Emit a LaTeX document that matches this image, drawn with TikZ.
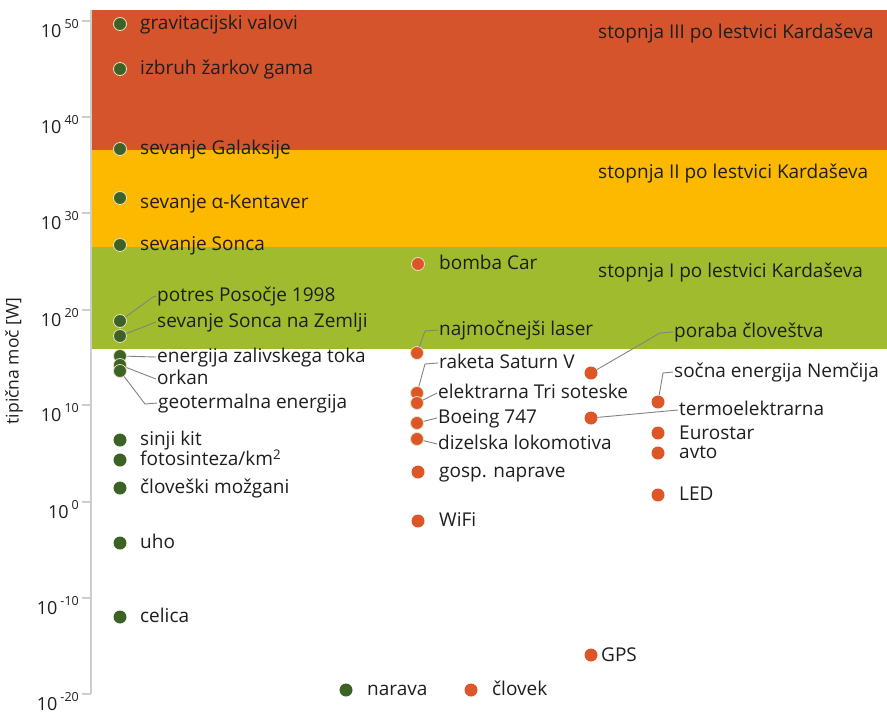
\documentclass[tikz,border=0pt]{standalone}
\usepackage{fontspec}
\setmainfont{Open Sans}
\definecolor{bandR}{RGB}{214,84,44}
\definecolor{bandY}{RGB}{252,185,0}
\definecolor{bandG}{RGB}{160,188,46}
\definecolor{dotG}{RGB}{60,98,38}
\definecolor{dotO}{RGB}{220,86,40}
\definecolor{rim}{RGB}{232,226,195}
\definecolor{txt}{RGB}{30,30,30}
\definecolor{lead}{RGB}{130,130,130}
\definecolor{axisc}{RGB}{205,205,205}
\tikzset{
  gdot/.style={circle,inner sep=0pt,minimum size=13pt,fill=dotG,draw=rim,line width=0.8pt},
  odot/.style={circle,inner sep=0pt,minimum size=13pt,fill=dotO,draw=rim,line width=0.8pt},
  lbl/.style={anchor=west,inner sep=1pt,text=txt,font=\fontsize{19}{20}\selectfont,text height=15pt,text depth=4pt},
  blbl/.style={anchor=west,inner sep=0pt,text=txt,font=\fontsize{19}{20}\selectfont,text height=15pt,text depth=4pt},
  tlbl/.style={anchor=base east,inner sep=0pt,text=txt,font=\fontsize{18}{18}\selectfont},
  leader/.style={draw=lead,line width=0.9pt},
}
\begin{document}
\begin{tikzpicture}[x=1pt,y=-1pt]
\useasboundingbox (0,0) rectangle (887,713);
% bands
\fill[bandR] (91,10) rectangle (887,150);
\fill[bandY] (91,150) rectangle (887,247);
\fill[bandG] (91,247) rectangle (887,349);
% axis
\draw[axisc,line width=1.6pt] (91,10) -- (91,694);
\foreach \e/\y in {50/21,40/117,30/213,20/310,10/405,0/502,{-10}/598,{-20}/694}{
  \draw[axisc,line width=1.4pt] (82,\y) -- (91,\y);
  \node[tlbl] at (79,\y+16) {10\,\raisebox{9pt}{\fontsize{12.5}{12}\selectfont\e}};
}
\node[rotate=90,text=txt,font=\fontsize{17.5}{18}\selectfont] (ylab) at (14,361) {tipična moč [W]};
% band labels
\node[blbl] (k3) at (598,33) {stopnja III po lestvici Kardaševa};
\node[blbl] (k2) at (598,173) {stopnja II po lestvici Kardaševa};
\node[blbl] (k1) at (598,272) {stopnja I po lestvici Kardaševa};
% nature dots
\node[gdot] (g1) at (120,24) {};
\node[gdot] (g2) at (120,69) {};
\node[gdot] (g3) at (120,149) {};
\node[gdot] (g4) at (120,198) {};
\node[gdot] (g5) at (120,245) {};
\node[gdot] (g6) at (120,321) {};
\node[gdot] (g7) at (120,336) {};
\node[gdot] (g8) at (120,356) {};
\node[gdot] (g9) at (120,365) {};
\node[gdot] (g10) at (120,371) {};
\node[gdot,draw=none] (g11) at (120,440) {};
\node[gdot,draw=none] (g12) at (120,460) {};
\node[gdot,draw=none] (g13) at (120,488) {};
\node[gdot,draw=none] (g14) at (120,543) {};
\node[gdot,draw=none] (g15) at (120,617) {};
\node[lbl] (l1) at (139,24) {gravitacijski valovi};
\node[lbl] (l2) at (139,69) {izbruh žarkov gama};
\node[lbl] (l3) at (139,149) {sevanje Galaksije};
\node[lbl] (l4) at (139,203) {sevanje α-Kentaver};
\node[lbl] (l5) at (139,245) {sevanje Sonca};
\node[lbl] (l6) at (156,296) {potres Posočje 1998};
\node[lbl] (l7) at (156,322) {sevanje Sonca na Zemlji};
\node[lbl] (l8) at (156,357) {energija zalivskega toka};
\node[lbl] (l9) at (156,379) {orkan};
\node[lbl] (l10) at (157,403) {geotermalna energija};
\node[lbl] (l11) at (139,440) {sinji kit};
\node[lbl] (l12) at (139,460) {fotosinteza/km\textsuperscript{2}};
\node[lbl] (l13) at (139,488) {človeški možgani};
\node[lbl] (l14) at (139,543) {uho};
\node[lbl] (l15) at (139,617) {celica};
\draw[leader] (g6) -- (153,297) -- (l6.west);
\draw[leader] (g7) -- (l7.west);
\draw[leader] (g8) -- (l8.west);
\draw[leader] (g9) -- (l9.west);
\draw[leader] (g10) -- (145,404) -- (l10.west);
% human dots
\node[odot] (o1) at (418,264) {};
\node[odot] (o2) at (417,353) {};
\node[odot] (o3) at (417,393) {};
\node[odot] (o4) at (417,403) {};
\node[odot] (o5) at (417,423) {};
\node[odot] (o6) at (417,439) {};
\node[odot,draw=none] (o7) at (418,472) {};
\node[odot,draw=none] (o8) at (418,521) {};
\node[odot,draw=none] (o9) at (591,373) {};
\node[odot,draw=none] (o10) at (591,418) {};
\node[odot,draw=none] (o11) at (591,655) {};
\node[odot,draw=none] (o12) at (658,402) {};
\node[odot,draw=none] (o13) at (658,433) {};
\node[odot,draw=none] (o14) at (658,453) {};
\node[odot,draw=none] (o15) at (658,495) {};
\node[lbl] (m1) at (438,264) {bomba Car};
\node[lbl] (m2) at (438,330) {najmočnejši laser};
\node[lbl] (m3) at (438,363) {raketa Saturn V};
\node[lbl] (m4) at (437,393) {elektrarna Tri soteske};
\node[lbl] (m5) at (437,418) {Boeing 747};
\node[lbl] (m6) at (437,444) {dizelska lokomotiva};
\node[lbl] (m7) at (438,472) {gosp. naprave};
\node[lbl] (m8) at (438,521) {WiFi};
\node[lbl] (m9) at (673,332) {poraba človeštva};
\node[lbl] (m10) at (678,410) {termoelektrarna};
\node[lbl] (m11) at (600,656) {GPS};
\node[lbl] (m12) at (673,372) {sočna energija Nemčija};
\node[lbl] (m13) at (678,434) {Eurostar};
\node[lbl] (m14) at (678,453) {avto};
\node[lbl] (m15) at (678,495) {LED};
\draw[leader] (o2) -- (425,331) -- (m2.west);
\draw[leader] (o3) -- (425,364) -- (m3.west);
\draw[leader] (o4) -- (m4.west);
\draw[leader] (o5) -- (m5.west);
\draw[leader] (o6) -- (m6.west);
\draw[leader] (o9) -- (660,333) -- (m9.west);
\draw[leader] (o10) -- (m10.west);
\draw[leader] (o12) -- (663,373) -- (m12.west);
% legend
\node[gdot,draw=none] (lg1) at (346,690) {};
\node[lbl] (lt1) at (366,690) {narava};
\node[odot,draw=none] (lg2) at (471,690) {};
\node[lbl] (lt2) at (491,690) {človek};
\end{tikzpicture}
\end{document}
